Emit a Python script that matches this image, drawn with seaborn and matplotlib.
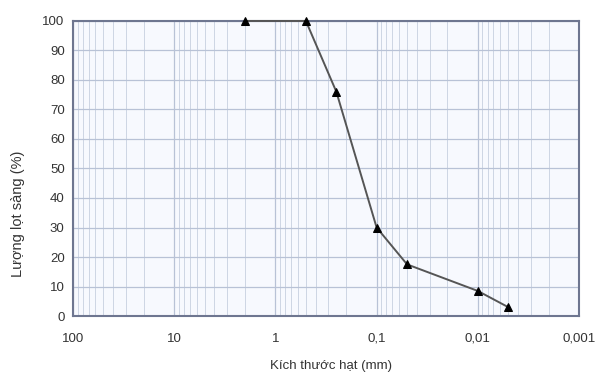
import matplotlib
matplotlib.use("Agg")
import matplotlib.pyplot as plt
import matplotlib.ticker as mticker
import seaborn as sns
import pandas as pd

grain_size_mm = [2.0, 0.5, 0.25, 0.1, 0.05, 0.01, 0.005]
passing_pct = [100, 100, 76, 30, 17.5, 8.5, 3]
x_ticks = [100, 10, 1, 0.1, 0.01, 0.001]
x_tick_labels = ["100", "10", "1", "0,1", "0,01", "0,001"]
y_ticks = [0, 10, 20, 30, 40, 50, 60, 70, 80, 90, 100]

sns.set_theme(style="white")
plt.rcParams['font.family'] = ['Liberation Sans', 'DejaVu Sans']

df = pd.DataFrame({"size": grain_size_mm, "pass": passing_pct})

fig = plt.figure(figsize=(5.96, 3.74), dpi=100)
ax = fig.add_axes([0.1225, 0.155, 0.849, 0.789])
ax.set_facecolor("#f7f9fe")

ax.set_xscale("log")
ax.set_xlim(100, 0.001)
ax.set_ylim(0, 100)

ax.xaxis.set_major_locator(mticker.FixedLocator(x_ticks))
ax.xaxis.set_major_formatter(mticker.FixedFormatter(x_tick_labels))
ax.xaxis.set_minor_locator(mticker.LogLocator(base=10, subs=range(2, 10), numticks=20))
ax.xaxis.set_minor_formatter(mticker.NullFormatter())
ax.set_yticks(y_ticks)
ax.yaxis.set_minor_locator(mticker.MultipleLocator(2))

ax.grid(True, which="major", axis="both", color="#b8c2d6", linewidth=0.9)
ax.grid(True, which="minor", axis="x", color="#cdd5e4", linewidth=0.7)
ax.set_axisbelow(True)

sns.lineplot(data=df, x="size", y="pass", ax=ax, color="#555555", linewidth=1.4,
             marker="^", markersize=6, markerfacecolor="black", markeredgecolor="black",
             sort=False, clip_on=False, zorder=3)

for s in ax.spines.values():
    s.set_color("#6e7690")
    s.set_linewidth(1.5)

ax.tick_params(axis="x", which="major", labelsize=9.5, colors="#6e7690", labelcolor="#333333",
               length=3, direction="out", pad=9)
ax.tick_params(axis="y", which="major", labelsize=9.5, colors="#6e7690", labelcolor="#333333",
               length=3, direction="out", pad=3)
ax.tick_params(axis="x", which="minor", length=0)
ax.tick_params(axis="y", which="minor", length=2, color="#6e7690", direction="out")
ax.set_xlabel("Kích thước hạt (mm)", fontsize=9.5, color="#333333")
ax.xaxis.set_label_coords(0.51, -0.15)
ax.set_ylabel("Lượng lọt sàng (%)", fontsize=10.5, color="#333333")
ax.yaxis.set_label_coords(-0.095, 0.345)

fig.savefig("out.png", dpi=100)
